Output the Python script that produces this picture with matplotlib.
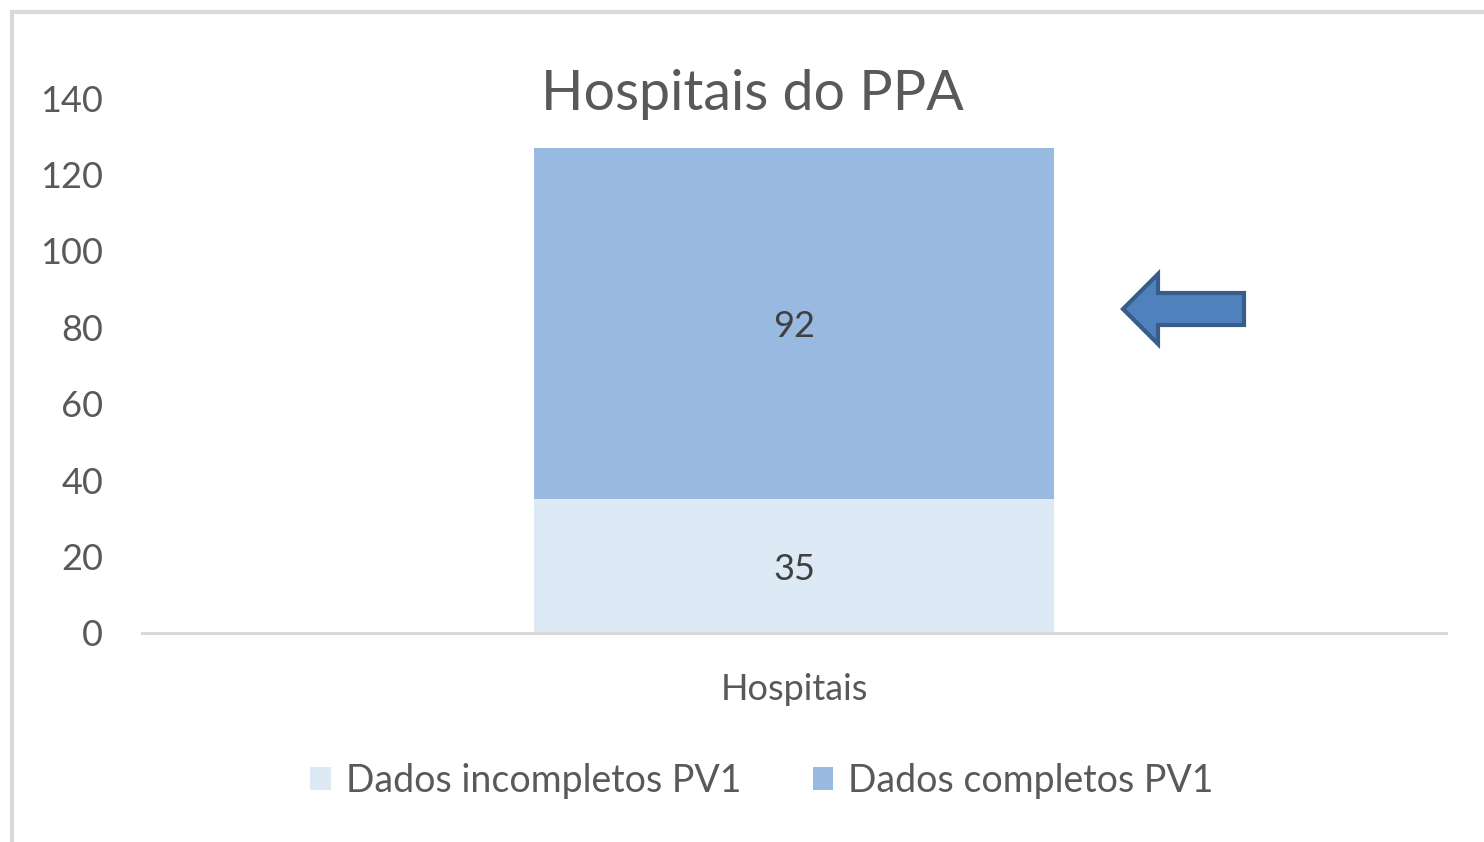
import matplotlib.pyplot as plt
from matplotlib.patches import Polygon, Rectangle, Patch

plt.rcParams['font.family'] = ['Lato', 'DejaVu Sans']

# Data
categories = ["Hospitais"]
incompletos = [35]
completos = [92]
series_names = ["Dados incompletos PV1", "Dados completos PV1"]
y_ticks = [0, 20, 40, 60, 80, 100, 120, 140]

c_light = "#DDEAF6"
c_dark = "#98B9E0"

W, H = 1484, 842
fig = plt.figure(figsize=(W / 100, H / 100), dpi=100)
ax = fig.add_axes([142 / W, 1 - 633 / H, (1446 - 142) / W, (633 - 98) / H])

x = list(range(len(categories)))
ax.bar(x, incompletos, width=1.0, color=c_light)
ax.bar(x, completos, width=1.0, bottom=incompletos, color=c_dark)

for xi, a, b in zip(x, incompletos, completos):
    ax.text(xi, a / 2, str(a), ha="center", va="center_baseline", fontsize=26, color="#404040")
    ax.text(xi, a + b / 2, str(b), ha="center", va="center_baseline", fontsize=26, color="#404040")

ax.set_xlim(-1.254, 1.254)
ax.set_ylim(0, 140)
ax.set_yticks(y_ticks)
ax.set_xticks(x)
ax.set_xticklabels(categories)
ax.tick_params(axis="both", length=0, labelsize=26, labelcolor="#595959")
ax.tick_params(axis="y", pad=28)
ax.tick_params(axis="x", pad=29)
for s in ["left", "right", "top"]:
    ax.spines[s].set_visible(False)
ax.spines["bottom"].set_color("#D9D9D9")
ax.spines["bottom"].set_linewidth(2.2)

fig.text(752 / W, 1 - 94 / H, "Hospitais do PPA", ha="center", va="center",
         fontsize=40, color="#595959")

handles = [Patch(facecolor=c_light), Patch(facecolor=c_dark)]
fig.legend(handles, series_names, loc="center", bbox_to_anchor=(762 / W, 1 - 781 / H),
           ncol=2, frameon=False, fontsize=27, handlelength=0.55, handleheight=0.55,
           handletextpad=0.4, columnspacing=1.9, labelcolor="#595959")

# arrow shape (decoration)
pts = [(1123, 309), (1158, 274), (1158, 293), (1244, 293),
       (1244, 325), (1158, 325), (1158, 344)]
arrow = Polygon([(px / W, 1 - py / H) for px, py in pts], closed=True,
                facecolor="#4F81BD", edgecolor="#385D8A", linewidth=3,
                transform=fig.transFigure)
fig.patches.append(arrow)

# outer frame
frame = Rectangle((12 / W, -0.05), 1.1, 1 - 12 / H + 0.05, fill=False,
                  edgecolor="#D9D9D9", linewidth=3, transform=fig.transFigure)
fig.patches.append(frame)

fig.savefig("out.png", dpi=100)
